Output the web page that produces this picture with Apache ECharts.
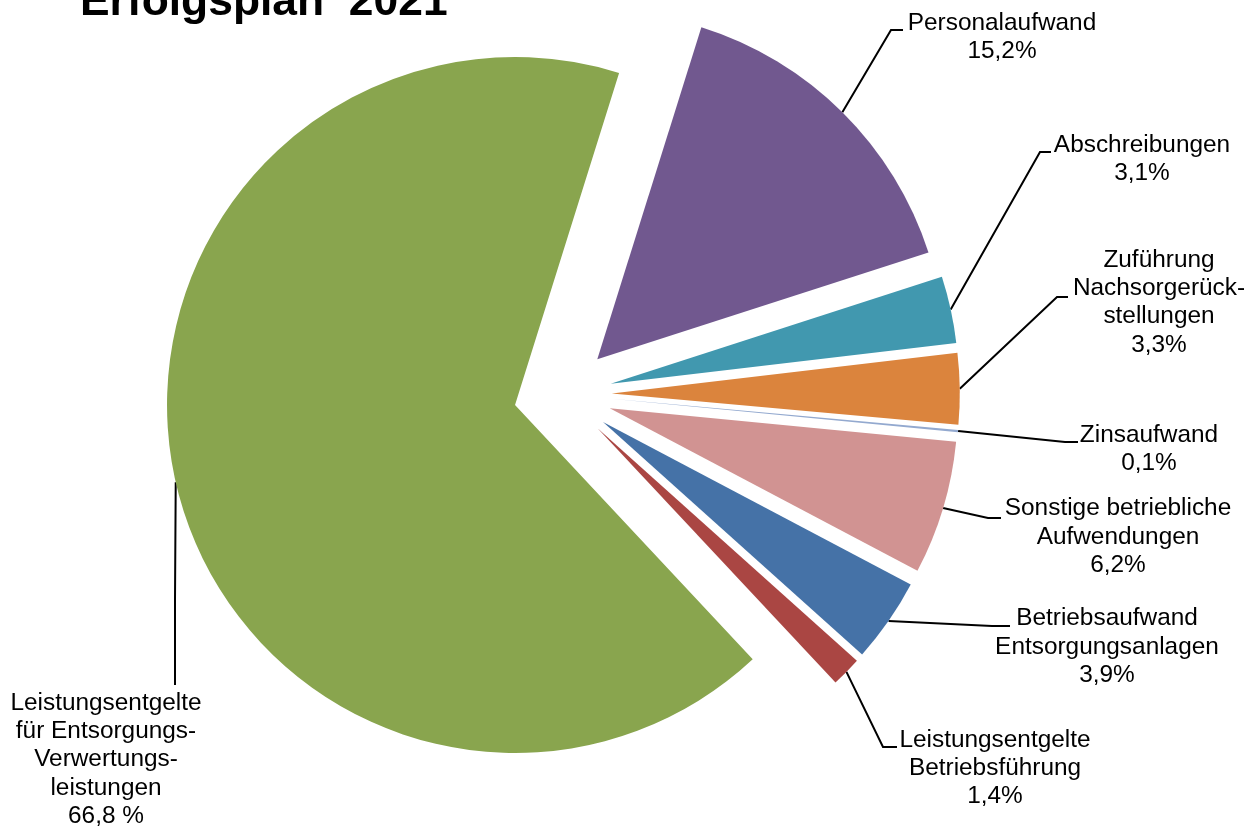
<!DOCTYPE html>
<html>
<head>
<meta charset="utf-8">
<script src="https://cdn.jsdelivr.net/npm/echarts@6/dist/echarts.min.js"></script>
<style>
html, body { margin: 0; padding: 0; background: #fff; }
#chart { width: 1260px; height: 828px; }
</style>
</head>
<body>
<div id="chart"></div>
<script>
// ---- data ----
const titleText = 'Erfolgsplan  2021';
const categories = [
  'Personalaufwand',
  'Abschreibungen',
  'Zuführung\nNachsorgerück-\nstellungen',
  'Zinsaufwand',
  'Sonstige betriebliche\nAufwendungen',
  'Betriebsaufwand\nEntsorgungsanlagen',
  'Leistungsentgelte\nBetriebsführung',
  'Leistungsentgelte\nfür Entsorgungs-\nVerwertungs-\nleistungen'
];
const values = [15.2, 3.1, 3.3, 0.1, 6.2, 3.9, 1.4, 66.8];
const colors = ['#71588F', '#4198AF', '#DB843D', '#93A9CF', '#D19392', '#4572A7', '#AA4643', '#89A54E'];

// ---- label placement (annotation layout, not data) ----
const labelPlace = [
  { x: 1002, y: 9,   mid: [891, 30],  end: [903, 30] },
  { x: 1142, y: 131, mid: [1040, 152], end: [1051, 152] },
  { x: 1159, y: 246, mid: [1057, 297], end: [1068, 297] },
  { x: 1149, y: 421, mid: [1065, 442], end: [1078, 442] },
  { x: 1118, y: 494.5, mid: [988, 518], end: [1001, 518] },
  { x: 1107, y: 604.5, mid: [992, 626], end: [1010, 626] },
  { x: 995,  y: 726, mid: [883, 747], end: [897, 747] },
  { x: 106,  y: 689, mid: [175, 600], end: [175, 685] }
];

const PIE_CENTER = [562.8, 394.1];
const PIE_RADIUS = 348;
const EXPLODE = 49;
const START_ANGLE = 72.6;

function pctText(i) {
  const s = values[i].toFixed(1).replace('.', ',');
  return i === values.length - 1 ? s + ' %' : s + '%';
}

const chart = echarts.init(document.getElementById('chart'), null, { renderer: 'canvas' });
chart.setOption({
  animation: false,
  backgroundColor: '#ffffff',
  title: {
    text: titleText,
    left: 75,
    top: -24,
    textStyle: { fontFamily: 'Liberation Sans, Arial, sans-serif', fontSize: 44.4, fontWeight: 'bold', color: '#000' }
  },
  series: [{
    // visible exploded slices
    type: 'pie',
    center: PIE_CENTER,
    radius: PIE_RADIUS,
    startAngle: START_ANGLE,
    clockwise: true,
    selectedMode: 'multiple',
    selectedOffset: EXPLODE,
    avoidLabelOverlap: false,
    emphasis: { disabled: true },
    itemStyle: { borderWidth: 0 },
    label: { show: false },
    labelLine: { show: false },
    data: categories.map((n, i) => ({
      name: n,
      value: values[i],
      selected: true,
      itemStyle: { color: colors[i] }
    }))
  }, {
    // label carrier: same data, transparent sectors reaching the exploded outer edge
    type: 'pie',
    silent: true,
    center: PIE_CENTER,
    radius: PIE_RADIUS + EXPLODE,
    startAngle: START_ANGLE,
    clockwise: true,
    avoidLabelOverlap: false,
    emphasis: { disabled: true },
    z: 1,
    itemStyle: { color: 'rgba(0,0,0,0)', borderWidth: 0 },
    data: categories.map((n, i) => ({ name: n, value: values[i] })),
    label: {
      show: true,
      position: 'outside',
      formatter: p => p.name + '\n' + pctText(p.dataIndex),
      fontFamily: 'Liberation Sans, Arial, sans-serif',
      fontSize: 24.4,
      lineHeight: 28.3,
      color: '#000',
      align: 'center'
    },
    labelLine: {
      show: true,
      smooth: false,
      length: 20,
      length2: 10,
      lineStyle: { color: '#000', width: 2 }
    },
    labelLayout: function (params) {
      const i = params.dataIndex;
      const L = labelPlace[i];
      const start = params.labelLinePoints ? params.labelLinePoints[0] : L.mid;
      return {
        x: L.x,
        y: L.y,
        align: 'center',
        verticalAlign: 'top',
        labelLinePoints: [start, L.mid, L.end]
      };
    }
  }]
});
</script>
</body>
</html>
